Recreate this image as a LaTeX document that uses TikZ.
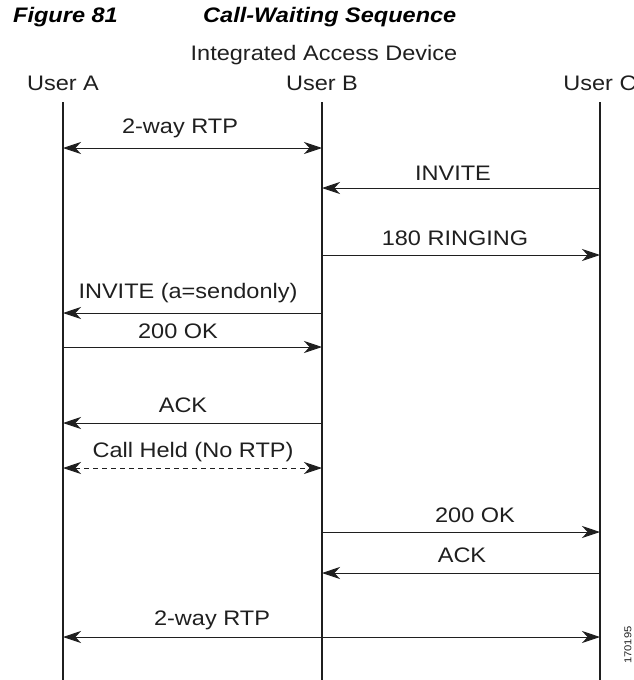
\documentclass[tikz,border=0pt]{standalone}
\usepackage{fontspec}
\setmainfont{Liberation Sans}[FakeStretch=1.12]
\usetikzlibrary{arrows.meta}
\definecolor{ink}{gray}{0.12}

\begin{document}
\begin{tikzpicture}[x=1pt, y=-1pt,
    lifeline/.style={draw=ink, line width=1.2pt},
    msg/.style={draw=ink, line width=0.9pt, -{Stealth[length=18pt,width=12pt,inset=5.5pt]}},
    one/.style={},
    both/.style={{Stealth[length=18pt,width=12pt,inset=5.5pt]}-{Stealth[length=18pt,width=12pt,inset=5.5pt]}},
    held/.style={both, dash pattern=on 5pt off 4pt},
    lbl/.style={anchor=base, inner sep=0pt, text=ink, font=\fontsize{21}{25}\selectfont},
    ttl/.style={anchor=base west, inner sep=0pt, text=black, font=\fontsize{21}{25}\selectfont\bfseries\itshape}]
  \useasboundingbox (0,0) rectangle (633,680);

  % title line
  \node[ttl] (fig) at (13,23) {Figure 81};
  \node[ttl] (caption) at (203,23) {Call-Waiting Sequence};

  % the three parties
  \node[lbl] (iad) at (324,60) {Integrated Access Device};
  \node[lbl] (userA) at (63,90) {User A};
  \node[lbl] (userB) at (322,90) {User B};
  \node[lbl] (userC) at (600,90) {User C};

  \coordinate (A) at (63,102);
  \coordinate (B) at (322,102);
  \coordinate (C) at (600,102);
  \coordinate (Aend) at (63,680);
  \coordinate (Bend) at (322,680);
  \coordinate (Cend) at (600,680);
  \draw[lifeline] (A) -- (Aend);
  \draw[lifeline] (B) -- (Bend);
  \draw[lifeline] (C) -- (Cend);

  % messages: arrow y / from / to / tips / label x / label baseline / text
  \foreach \y/\from/\to/\tips/\lx/\ly/\txt in {
      148/A/B/both/180/133/2-way RTP,
      188/C/B/one/453/180/INVITE,
      255/B/C/one/455/245/180 RINGING,
      313/B/A/one/188/298/INVITE (a=sendonly),
      347/A/B/one/178/338/200 OK,
      423/B/A/one/183/412/ACK,
      468/A/B/held/193/457/Call Held (No RTP),
      532/B/C/one/475/522/200 OK,
      573/C/B/one/462/562/ACK,
      637/A/C/both/212/625/2-way RTP}
  {
    \draw[msg,\tips] (\from |- 0,\y) -- (\to |- 0,\y);
    \node[lbl] at (\lx,\ly) {\txt};
  }

  \node[rotate=90, inner sep=0pt, text=ink, font=\fontsize{10}{12}\selectfont] (figid) at (628,645) {170195};
\end{tikzpicture}
\end{document}
